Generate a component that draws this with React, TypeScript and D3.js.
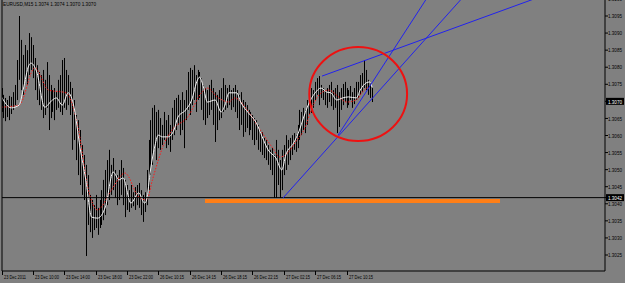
import React from "react";
import * as d3 from "d3";

const title = "EURUSD,M15  1.3074 1.3074 1.3070 1.3070";

const highs = [
  1.30739,1.30719,1.30710,1.30704,1.30716,1.30713,1.30727,1.30748,1.30821,1.30950,
  1.30880,1.30836,1.30865,1.30850,1.30900,1.30888,1.30865,1.30827,1.30806,1.30786,
  1.30777,1.30792,1.30763,1.30815,1.30777,1.30748,1.30733,1.30739,1.30727,1.30763,
  1.30777,1.30821,1.30827,1.30792,1.30777,1.30757,1.30739,1.30704,1.30660,1.30645,
  1.30616,1.30572,1.30543,1.30514,1.30484,1.30426,1.30411,1.30396,1.30426,1.30388,
  1.30411,1.30440,1.30470,1.30499,1.30528,1.30558,1.30514,1.30534,1.30499,1.30484,
  1.30499,1.30528,1.30505,1.30470,1.30455,1.30440,1.30455,1.30434,1.30449,1.30455,
  1.30461,1.30440,1.30426,1.30434,1.30499,1.30587,1.30645,1.30681,1.30689,1.30669,
  1.30675,1.30651,1.30631,1.30669,1.30645,1.30660,1.30631,1.30681,1.30704,1.30710,
  1.30719,1.30704,1.30727,1.30704,1.30733,1.30786,1.30798,1.30792,1.30806,1.30777,
  1.30792,1.30786,1.30768,1.30748,1.30739,1.30733,1.30748,1.30763,1.30739,1.30727,
  1.30719,1.30733,1.30739,1.30768,1.30748,1.30739,1.30748,1.30733,1.30739,1.30748,
  1.30733,1.30719,1.30727,1.30704,1.30698,1.30689,1.30675,1.30669,1.30660,1.30651,
  1.30645,1.30631,1.30616,1.30610,1.30593,1.30587,1.30572,1.30558,1.30563,1.30543,
  1.30587,1.30558,1.30528,1.30558,1.30572,1.30601,1.30587,1.30593,1.30601,1.30607,
  1.30601,1.30631,1.30675,1.30669,1.30681,1.30675,1.30704,1.30727,1.30739,1.30733,
  1.30757,1.30768,1.30774,1.30748,1.30739,1.30733,1.30739,1.30748,1.30757,1.30733,
  1.30739,1.30748,1.30727,1.30739,1.30751,1.30757,1.30739,1.30733,1.30745,1.30727,
  1.30739,1.30757,1.30757,1.30777,1.30783,1.30821,1.30792,1.30763,1.30757,1.30739,
];

const lows = [
  1.30669,1.30651,1.30642,1.30654,1.30645,1.30663,1.30675,1.30689,1.30704,1.30763,
  1.30733,1.30719,1.30763,1.30748,1.30777,1.30792,1.30768,1.30733,1.30704,1.30689,
  1.30675,1.30651,1.30660,1.30681,1.30616,1.30651,1.30669,1.30645,1.30675,1.30681,
  1.30669,1.30660,1.30681,1.30675,1.30689,1.30660,1.30558,1.30587,1.30528,1.30484,
  1.30455,1.30426,1.30411,1.30247,1.30338,1.30317,1.30300,1.30323,1.30329,1.30309,
  1.30329,1.30338,1.30352,1.30367,1.30396,1.30411,1.30426,1.30440,1.30417,1.30396,
  1.30411,1.30426,1.30396,1.30361,1.30382,1.30376,1.30388,1.30393,1.30382,1.30396,
  1.30388,1.30367,1.30347,1.30376,1.30396,1.30440,1.30484,1.30514,1.30558,1.30528,
  1.30563,1.30558,1.30572,1.30587,1.30563,1.30572,1.30552,1.30587,1.30601,1.30616,
  1.30631,1.30601,1.30616,1.30563,1.30645,1.30675,1.30660,1.30689,1.30704,1.30669,
  1.30704,1.30710,1.30675,1.30645,1.30631,1.30651,1.30660,1.30675,1.30631,1.30581,
  1.30616,1.30645,1.30651,1.30669,1.30675,1.30681,1.30689,1.30675,1.30683,1.30669,
  1.30651,1.30616,1.30631,1.30596,1.30610,1.30622,1.30601,1.30616,1.30587,1.30572,
  1.30587,1.30558,1.30552,1.30543,1.30534,1.30528,1.30514,1.30499,1.30484,1.30417,
  1.30417,1.30455,1.30417,1.30440,1.30484,1.30499,1.30514,1.30528,1.30543,1.30558,
  1.30552,1.30563,1.30587,1.30601,1.30616,1.30607,1.30631,1.30660,1.30666,1.30681,
  1.30704,1.30719,1.30689,1.30710,1.30704,1.30689,1.30681,1.30698,1.30686,1.30675,
  1.30681,1.30607,1.30625,1.30675,1.30689,1.30698,1.30681,1.30689,1.30704,1.30681,
  1.30692,1.30704,1.30710,1.30719,1.30727,1.30739,1.30733,1.30719,1.30710,1.30698,
];

// fast moving average (white), sampled at bar indices
const maFastIdx = [0,5,9,11,14,15,18,22,26,28,31,34,37,40,43,46,49,53,57,60,62,66,70,73,74,76,78,80,82,85,88,90,94,97,100,101,103,105,109,112,114,116,120,122,126,130,133,136,140,143,145,149,152,154,156,160,163,166,168,171,174,177,181,183,186,188,189];
const maFast = [1.30713,1.30681,1.30689,1.30733,1.30806,1.30812,1.30786,1.30683,1.30704,1.30710,1.30689,1.30725,1.30683,1.30566,1.30470,1.30361,1.30358,1.30391,1.30493,1.30470,1.30476,1.30402,1.30432,1.30402,1.30411,1.30499,1.30563,1.30601,1.30596,1.30596,1.30616,1.30654,1.30675,1.30704,1.30763,1.30771,1.30742,1.30698,1.30704,1.30669,1.30689,1.30725,1.30725,1.30698,1.30666,1.30637,1.30596,1.30558,1.30534,1.30499,1.30543,1.30578,1.30616,1.30651,1.30683,1.30725,1.30739,1.30727,1.30725,1.30704,1.30710,1.30713,1.30710,1.30733,1.30754,1.30757,1.30742];

// slow moving average (red dotted)
const maSlowIdx = [0,9,17,24,33,39,44,49,56,63,70,74,77,80,82,87,95,102,105,110,116,119,126,131,138,142,146,150,155,158,162,167,172,176,181,184,187];
const maSlow = [1.30683,1.30689,1.30798,1.30733,1.30725,1.30625,1.30449,1.30382,1.30440,1.30490,1.30420,1.30411,1.30470,1.30528,1.30563,1.30616,1.30654,1.30725,1.30739,1.30713,1.30698,1.30710,1.30669,1.30625,1.30566,1.30537,1.30549,1.30581,1.30625,1.30675,1.30719,1.30733,1.30713,1.30698,1.30704,1.30727,1.30742];

const priceTicks = [1.31, 1.3095, 1.309, 1.3085, 1.308, 1.3075, 1.307, 1.3065, 1.306, 1.3055, 1.305, 1.3045, 1.304, 1.3035, 1.303, 1.3025];
const timeLabels = ["23 Dec 2011","23 Dec 10:00","23 Dec 14:00","23 Dec 18:00","23 Dec 22:00","26 Dec 10:15","26 Dec 14:15","26 Dec 18:15","26 Dec 22:15","27 Dec 02:15","27 Dec 06:15","27 Dec 10:15"];
const timeLabelBars = [0,16,32,48,64,80,96,112,128,144,160,176];

const lastPrice = 1.3070;
const hLinePrice = 1.30418;
const hLineLabel = "1.3042";

// trend lines (rays): [barIndex1, price1, barIndex2, price2]
const trendA = [163.5, 1.30774, 186, 1.30821];
const trendB = [143.6, 1.30417, 171.7, 1.30597];
const trendC = [171.7, 1.30601, 184, 1.3071];

// orange level: [barStart, barEnd, price]
const orangeLevel = [103.8, 254.3, 1.30408];
// ellipse: [barLeft, barRight, priceTop, priceBottom]
const ellipseBox = [157, 206.9, 1.30859, 1.30584];

const W = 625, H = 283;
const plotL = 2, plotR = 605, plotB = 271;

export default function App() {
  const x = d3.scaleLinear().domain([0, 189]).range([1.5, 372]);
  const y = d3.scaleLinear().domain([1.3095, 1.3025]).range([16, 255]);

  const fastLine = d3.line<number>().x((_, i) => x(maFastIdx[i])).y((d) => y(d)).curve(d3.curveMonotoneX)(maFast) || "";
  const slowLine = d3.line<number>().x((_, i) => x(maSlowIdx[i])).y((d) => y(d)).curve(d3.curveMonotoneX)(maSlow) || "";

  const ray = (t: number[]) => {
    const x1 = x(t[0]), y1 = y(t[1]), x2 = x(t[2]), y2 = y(t[3]);
    const k = (y2 - y1) / (x2 - x1);
    const xe = 800;
    return { x1, y1, x2: xe, y2: y1 + k * (xe - x1) };
  };
  const rays = [trendA, trendB, trendC].map(ray);

  const ex1 = x(ellipseBox[0]), ex2 = x(ellipseBox[1]);
  const ey1 = y(ellipseBox[2]), ey2 = y(ellipseBox[3]);

  const font = "'Liberation Sans', Arial, sans-serif";

  return (
    <div style={{ position: "fixed", left: 0, top: 0 }}>
      <svg width={W} height={H} style={{ display: "block", background: "#808080" }}>
        <defs>
          <clipPath id="plot">
            <rect x={plotL} y={0} width={plotR - plotL} height={plotB} />
          </clipPath>
        </defs>
        <rect x={0} y={0} width={W} height={H} fill="#808080" />
        <g clipPath="url(#plot)">
          {highs.map((h, i) => (
            <line key={i} x1={Math.round(x(i)) + 0.5} x2={Math.round(x(i)) + 0.5} y1={y(h)} y2={y(lows[i])} stroke="#000" strokeWidth={1} />
          ))}
          <path d={slowLine} fill="none" stroke="#ff1a1a" strokeWidth={1} strokeDasharray="1.5,1.5" />
          <path d={fastLine} fill="none" stroke="#f4f4f4" strokeWidth={1} />
          <line x1={plotL} x2={plotR} y1={y(hLinePrice)} y2={y(hLinePrice)} stroke="#000" strokeWidth={1} />
          <line x1={x(orangeLevel[0])} x2={x(orangeLevel[1])} y1={y(orangeLevel[2])} y2={y(orangeLevel[2])} stroke="#ff7f17" strokeWidth={4} />
          {rays.map((r, i) => (
            <line key={i} x1={r.x1} y1={r.y1} x2={r.x2} y2={r.y2} stroke="#2222ee" strokeWidth={1} />
          ))}
          <ellipse cx={(ex1 + ex2) / 2} cy={(ey1 + ey2) / 2} rx={(ex2 - ex1) / 2} ry={(ey2 - ey1) / 2} fill="none" stroke="#ee1111" strokeWidth={2} />
        </g>
        {/* frame */}
        <line x1={plotL} x2={plotL} y1={0} y2={plotB} stroke="#000" />
        <line x1={plotR} x2={plotR} y1={0} y2={plotB} stroke="#000" />
        <line x1={plotL} x2={plotR} y1={plotB} y2={plotB} stroke="#000" />
        {/* title */}
        <text x={3} y={5.5} fontFamily={font} fontSize={6} fill="#000" textLength={93} lengthAdjust="spacingAndGlyphs">{title}</text>
        {/* price axis */}
        {priceTicks.map((p, i) => (
          <g key={i}>
            <line x1={plotR} x2={plotR + 3} y1={y(p)} y2={y(p)} stroke="#000" />
            <text x={608} y={y(p) + 2.2} fontFamily={font} fontSize={6} fill="#000" textLength={14} lengthAdjust="spacingAndGlyphs">{p.toFixed(4)}</text>
          </g>
        ))}
        {[{ p: lastPrice, t: lastPrice.toFixed(4) }, { p: hLinePrice, t: hLineLabel }].map((b, i) => (
          <g key={i}>
            <rect x={606} y={y(b.p) - 3.5} width={18} height={7} fill="#000" />
            <text x={608} y={y(b.p) + 2.2} fontFamily={font} fontSize={6} fill="#fff" textLength={14} lengthAdjust="spacingAndGlyphs">{b.t}</text>
          </g>
        ))}
        <line x1={plotR} x2={606} y1={y(hLinePrice)} y2={y(hLinePrice)} stroke="#000" />
        {/* time axis */}
        {timeLabels.map((t, i) => {
          const tx = Math.max(plotL + 0.5, Math.round(x(timeLabelBars[i])) + 0.5);
          return (
            <g key={i}>
              <line x1={tx} x2={tx} y1={plotB} y2={plotB + 4} stroke="#000" />
              <text x={tx + 1.5} y={279} fontFamily={font} fontSize={5.5} fill="#000" textLength={i === 0 ? 22 : 24} lengthAdjust="spacingAndGlyphs">{t}</text>
            </g>
          );
        })}
      </svg>
    </div>
  );
}
